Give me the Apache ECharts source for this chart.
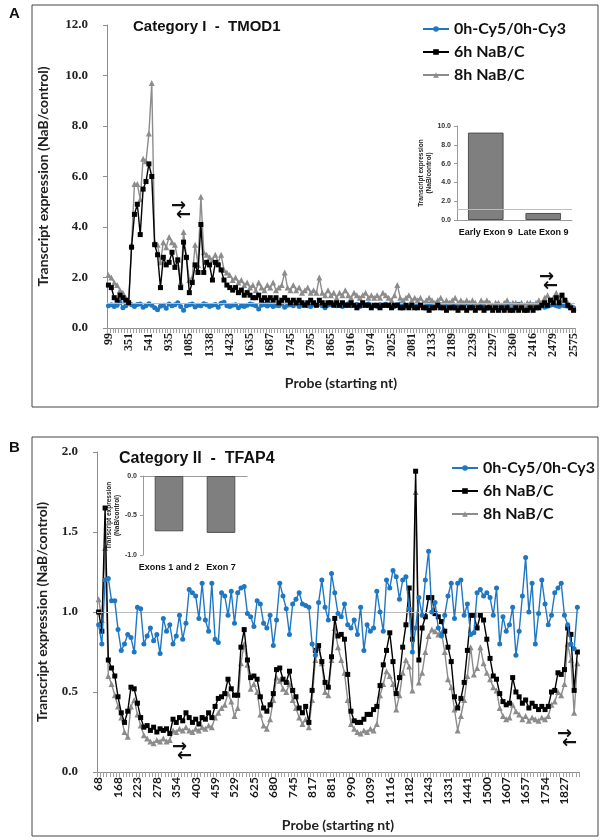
<!DOCTYPE html>
<html>
<head>
<meta charset="utf-8">
<title>TMOD1 / TFAP4 transcript expression</title>
<script src="https://cdn.jsdelivr.net/npm/echarts@6.0.0/dist/echarts.min.js"></script>
<style>
  html, body { margin: 0; padding: 0; background: #fff; }
  #chart { width: 602px; height: 840px; }
</style>
</head>
<body>
<div id="chart"></div>
<script>
// ---- panel A : TMOD1 ----
var ticksA = ['99','351','541','935','1085','1338','1423','1635','1687','1745','1795','1865',
  '1916','1974','2025','2081','2133','2189','2239','2297','2360','2416','2479','2575'];
var stepA = 7;   // probes between two labels

var blueA = [0.88,0.92,0.85,0.90,1.02,0.80,0.88,1.00,0.92,0.85,
  0.93,0.95,0.82,0.88,0.96,0.90,0.80,0.72,0.86,0.90,
  0.78,0.95,0.88,0.92,1.00,0.85,0.70,0.88,0.92,0.95,
  0.83,0.90,0.88,0.96,0.92,0.85,0.90,0.93,0.82,0.98,
  1.02,0.88,0.85,0.90,0.92,0.80,0.88,0.85,0.90,0.95,
  0.92,0.88,0.75,0.90,0.93,0.87,0.92,0.85,0.90,0.88,
  0.95,0.82,0.90,0.92,0.88,0.96,0.85,0.90,0.93,0.88,
  0.85,0.92,0.90,0.94,0.88,0.80,0.90,0.92,0.95,0.88,
  0.90,0.85,0.92,0.96,0.88,0.90,0.93,0.85,0.88,0.92,
  0.95,0.90,0.88,0.85,0.92,0.90,0.94,0.88,0.90,0.85,
  0.92,0.95,0.88,0.86,0.90,0.93,0.85,0.88,0.90,0.92,
  0.88,0.95,0.85,0.90,0.88,0.92,0.86,0.90,0.94,0.88,
  0.85,0.90,0.92,0.88,1.00,0.90,0.86,0.92,0.88,0.90,
  0.82,0.78,0.90,0.88,0.85,0.92,0.88,0.90,0.86,0.92,
  0.90,0.88,0.94,0.86,0.90,0.80,0.88,0.92,0.85,0.90,
  0.88,0.82,0.86,0.90,0.92,0.88,0.85,0.90,0.88,0.86,
  0.85,0.80];

var blackA = [1.7,1.6,1.2,1.1,1.3,1.2,1.1,1.0,
  3.2,4.5,4.9,3.7,5.5,5.8,6.5,6.0,
  3.3,2.9,1.6,2.8,2.5,2.6,3.0,2.4,2.7,1.6,3.4,2.8,1.4,1.8,2.5,2.2,4.1,2.2,2.6,2.5,
  1.9,2.6,2.5,2.3,1.9,1.7,1.6,1.5,1.6,1.4,1.5,1.3,1.4,
  1.3,1.2,1.2,1.3,1.1,1.2,1.1,1.2,1.1,1.2,1.0,1.1,
  1.2,
  1.1,1.0,1.1,1.0,1.1,1.0,0.9,1.0,1.1,1.0,0.9,
  1.1,
  1.0,0.9,1.0,1.0,0.9,1.0,0.9,1.0,0.9,0.9,1.0,0.9,0.8,0.9,1.0,0.9,0.9,0.8,0.9,0.9,0.8,0.9,0.9,
  0.9,0.8,0.9,0.9,0.8,0.8,0.9,0.8,0.9,0.8,0.8,0.9,0.8,0.8,0.7,0.8,0.8,0.9,0.8,0.8,
  0.7,0.8,0.8,0.8,0.7,0.8,0.8,0.7,0.8,0.8,0.7,0.8,0.8,0.7,0.8,
  0.8,0.7,0.8,0.7,0.8,0.7,0.8,0.7,0.7,0.8,0.7,0.8,0.7,0.7,0.8,0.7,0.8,
  0.8,0.9,1.0,0.9,1.1,1.0,1.2,1.0,1.3,1.1,0.9,0.8,0.7];

var grayA = [2.1,2.0,1.8,1.7,1.5,1.4,1.2,1.0,
  3.3,5.7,5.7,5.1,6.7,6.6,7.7,9.7,
  3.4,3.3,2.6,3.4,3.2,3.6,3.4,3.3,2.7,1.8,3.8,2.8,1.9,2.0,3.3,2.5,5.2,3.0,2.9,2.8,
  2.7,2.9,2.6,2.9,2.3,2.2,2.1,1.9,2.0,1.8,1.9,1.7,1.8,
  1.6,1.7,1.5,1.8,1.6,1.5,1.7,1.6,1.8,1.5,1.6,1.7,
  2.2,
  1.6,1.5,1.7,1.5,1.6,1.4,1.5,1.6,1.4,1.5,1.4,
  2.0,
  1.4,1.3,1.5,1.3,1.4,1.2,1.4,1.3,1.5,1.3,1.2,1.4,1.3,1.2,1.3,1.4,1.2,1.3,1.2,1.3,1.2,1.4,1.3,
  1.2,1.1,1.3,1.7,1.2,1.1,1.2,1.3,1.1,1.2,1.1,1.2,1.0,1.1,1.2,1.1,1.0,1.1,1.2,1.0,
  1.1,1.0,1.1,1.2,1.0,1.1,1.0,1.1,1.0,1.1,1.0,0.9,1.1,1.0,1.1,
  1.0,0.9,1.0,1.0,0.9,1.0,1.1,0.9,1.0,1.0,0.9,1.0,0.9,1.0,1.0,0.9,1.0,
  1.1,1.0,1.2,1.3,1.1,1.2,1.4,1.2,1.3,1.1,1.0,0.9,0.8];

var insetACats = ['Early Exon 9', 'Late Exon 9'];
var insetAVals = [9.3, 0.75];

// ---- panel B : TFAP4 ----
var ticksB = ['68','168','223','278','354','403','459','529','625','680','745','817','881',
  '990','1039','1116','1182','1243','1331','1441','1500','1607','1657','1754','1827'];
var stepB = 6;

var blueB = [0.92,0.80,1.20,1.21,1.07,1.07,0.89,0.76,0.80,0.86,
  0.84,0.75,1.03,1.02,0.80,0.85,0.90,0.82,0.86,0.74,
  0.96,0.88,0.92,0.80,0.85,0.98,0.83,0.93,1.14,1.12,
  1.10,0.96,1.18,0.95,0.88,1.18,0.83,0.81,1.12,1.10,
  0.98,1.13,0.93,1.12,1.15,1.16,0.99,0.97,0.91,1.07,
  1.05,0.93,0.90,0.98,0.79,0.95,1.18,1.10,1.02,0.86,
  1.05,1.08,1.12,1.05,1.04,1.03,0.80,0.73,1.06,1.20,
  1.03,0.95,1.24,1.12,0.99,0.97,1.05,0.92,0.90,0.95,
  0.86,1.03,0.76,0.92,0.88,0.90,1.13,1.00,0.88,1.20,
  1.15,1.26,1.22,1.08,1.20,1.22,1.02,0.75,0.90,1.09,
  0.98,1.20,1.38,1.00,1.06,0.90,0.85,0.98,1.10,1.18,
  0.96,1.18,1.20,0.98,1.05,0.86,0.87,1.12,1.14,1.10,
  1.12,1.09,0.98,1.15,0.80,0.97,0.88,0.92,1.03,0.73,
  0.88,1.10,1.34,1.00,1.18,0.80,0.99,1.20,1.05,0.92,
  0.98,1.12,1.15,1.18,0.98,0.92,0.80,0.77,1.03];

var blackB = [1.00,0.88,1.65,0.70,0.65,0.60,0.47,0.37,0.31,0.38,
  0.53,0.52,0.43,0.34,0.28,0.29,0.26,0.28,0.25,0.27,
  0.26,0.27,0.24,0.33,0.31,0.34,0.32,0.37,0.34,0.31,
  0.33,0.30,0.34,0.33,0.37,0.34,0.41,0.46,0.47,0.49,
  0.58,0.52,0.48,0.48,0.78,0.89,0.70,0.59,0.60,0.58,
  0.47,0.40,0.38,0.42,0.49,0.64,0.65,0.58,0.56,0.63,
  0.51,0.47,0.40,0.37,0.41,0.31,0.51,0.76,0.79,0.69,
  0.56,0.53,0.72,0.96,0.85,0.86,0.83,0.61,0.38,0.32,
  0.31,0.31,0.33,0.36,0.36,0.39,0.41,0.54,0.67,0.76,
  0.87,0.69,0.49,0.59,0.78,0.92,1.15,0.83,1.88,0.70,
  0.90,0.97,1.09,1.09,0.99,0.97,0.94,0.88,0.78,0.69,
  0.47,0.40,0.46,0.56,0.76,0.98,0.98,0.90,0.98,0.95,
  0.83,0.71,0.60,0.58,0.49,0.44,0.42,0.43,0.59,0.50,
  0.47,0.43,0.45,0.40,0.43,0.41,0.39,0.41,0.39,0.41,
  0.50,0.51,0.62,0.61,0.64,0.90,0.86,0.51,0.75];

var grayB = [1.08,0.95,1.40,0.60,0.55,0.48,0.41,0.34,0.25,0.22,
  0.41,0.45,0.36,0.29,0.23,0.21,0.19,0.18,0.20,0.19,
  0.21,0.19,0.20,0.26,0.25,0.27,0.26,0.28,0.26,0.25,
  0.27,0.26,0.28,0.27,0.29,0.28,0.34,0.37,0.40,0.42,
  0.49,0.44,0.35,0.40,0.68,0.80,0.67,0.52,0.55,0.50,
  0.36,0.29,0.27,0.33,0.45,0.59,0.57,0.52,0.50,0.55,
  0.45,0.40,0.34,0.30,0.33,0.28,0.45,0.70,0.78,0.68,
  0.50,0.48,0.70,0.90,0.78,0.70,0.62,0.45,0.30,0.27,
  0.25,0.24,0.26,0.25,0.27,0.26,0.30,0.48,0.55,0.63,
  0.60,0.55,0.39,0.48,0.62,0.70,0.66,0.51,1.75,0.56,
  0.62,0.75,0.85,0.89,0.88,0.86,0.87,0.75,0.58,0.53,
  0.39,0.26,0.35,0.45,0.60,0.78,0.61,0.65,0.78,0.68,
  0.62,0.58,0.53,0.51,0.40,0.35,0.33,0.34,0.42,0.38,
  0.36,0.33,0.35,0.32,0.34,0.33,0.32,0.34,0.33,0.35,
  0.42,0.44,0.50,0.48,0.55,0.80,0.70,0.37,0.68];

var insetBCats = ['Exons 1 and 2', 'Exon 7'];
var insetBVals = [-0.70, -0.72];

var names = ['0h-Cy5/0h-Cy3', '6h NaB/C', '8h NaB/C'];
var colBlue = '#1f77c4', colBlack = '#000000', colGray = '#8c8c8c';

function cats(n) {
  var c = [];
  for (var i = 0; i < n; i++) c.push(String(i));
  return c;
}

var axisFont = 'Liberation Serif';
var sansFont = 'Lato';

function mainX(grid, n, ticks, step, font, gap) {
  return {
    type: 'category', gridIndex: grid, data: cats(n), boundaryGap: true,
    axisLine: { lineStyle: { color: '#8c8c8c', width: 1 } },
    axisTick: { show: true, interval: 0, length: 5, lineStyle: { color: '#a0a0a0' } },
    axisLabel: {
      interval: step - 1, rotate: 90, margin: 5,
      fontFamily: font, fontWeight: 'bold', fontSize: 12, color: '#1a1a1a',
      formatter: function (v, idx) { return idx % step === 0 ? (ticks[idx / step] || '') : ''; }
    },
    splitLine: { show: false },
    name: 'Probe (starting nt)', nameLocation: 'middle', nameGap: gap,
    nameTextStyle: { fontFamily: sansFont, fontWeight: 'bold', fontSize: 14, color: '#222' }
  };
}

function mainY(grid, max, itv, digits, gap) {
  return {
    type: 'value', gridIndex: grid, min: 0, max: max, interval: itv,
    axisLine: { show: true, lineStyle: { color: '#8c8c8c' } },
    axisTick: { show: true, length: 4, lineStyle: { color: '#8c8c8c' } },
    splitLine: { show: false },
    axisLabel: {
      margin: 19, fontFamily: axisFont, fontWeight: 'bold', fontSize: 13, color: '#222',
      formatter: function (v) { return v.toFixed(digits); }
    },
    name: 'Transcript expression (NaB/control)', nameLocation: 'middle', nameRotate: 90, nameGap: gap,
    nameTextStyle: { fontFamily: sansFont, fontWeight: 'bold', fontSize: 14, color: '#222' }
  };
}

function lineSeries(name, data, xi, yi, color, symbol, size, z) {
  return {
    name: name, type: 'line', xAxisIndex: xi, yAxisIndex: yi, data: data,
    symbol: symbol, symbolSize: size, showSymbol: true, showAllSymbol: true, z: z,
    lineStyle: { color: color, width: 1.4 },
    itemStyle: { color: color, borderWidth: 0 },
    emphasis: { disabled: true }
  };
}

function refLine(xi, yi, y) {
  // empty series that only carries the thin grey reference line
  return {
    name: 'ref', type: 'line', xAxisIndex: xi, yAxisIndex: yi, data: [], z: 1, silent: true,
    markLine: {
      silent: true, symbol: ['none', 'none'], label: { show: false },
      lineStyle: { color: '#bdbdbd', width: 1, type: 'solid' },
      data: [{ yAxis: y }]
    }
  };
}

function insetY(grid, min, max, itv) {
  return {
    type: 'value', gridIndex: grid, min: min, max: max, interval: itv,
    axisLine: { show: true, lineStyle: { color: '#9a9a9a' } },
    axisTick: { show: true, length: 3, lineStyle: { color: '#9a9a9a' } },
    splitLine: { show: false },
    axisLabel: { fontFamily: 'Liberation Sans', fontWeight: 'bold', fontSize: 7, color: '#333', margin: 6,
      formatter: function (v) { return v.toFixed(1); } },
    name: 'Transcript expression\n(NaB/control)', nameLocation: 'middle', nameRotate: 90, nameGap: 19,
    nameTextStyle: { fontFamily: 'Liberation Sans', fontWeight: 'bold', fontSize: 6.5, color: '#222', lineHeight: 8 }
  };
}

var catLabel = { interval: 0, hideOverlap: false, fontFamily: 'Liberation Sans', fontWeight: 'bold',
  fontSize: 9, color: '#111', margin: 8 };

var chart = echarts.init(document.getElementById('chart'));

var legendText = { fontFamily: sansFont, fontWeight: 'bold', fontSize: 16, color: '#111' };

var option = {
  animation: false,
  backgroundColor: '#fff',
  grid: [
    { left: 107, top: 25, width: 468, height: 303 },
    { left: 457, top: 126, width: 115, height: 94 },
    { left: 97, top: 452, width: 482, height: 320 },
    { left: 143, top: 476, width: 104, height: 79 }
  ],
  xAxis: [
    mainX(0, blueA.length, ticksA, stepA, axisFont, 48),
    { type: 'category', gridIndex: 1, data: insetACats,
      axisLine: { lineStyle: { color: '#9a9a9a' } }, axisTick: { show: false }, axisLabel: catLabel },
    mainX(2, blueB.length, ticksB, stepB, sansFont, 46),
    { type: 'category', gridIndex: 3, data: insetBCats, position: 'bottom',
      axisLine: { show: false, onZero: false }, axisTick: { show: false }, axisLabel: catLabel },
    { type: 'category', gridIndex: 3, data: insetBCats, position: 'top',
      axisLine: { show: true, onZero: false, lineStyle: { color: '#9a9a9a' } },
      axisTick: { show: false }, axisLabel: { show: false } }
  ],
  yAxis: [
    mainY(0, 12, 2, 1, 57),
    insetY(1, 0, 10, 2),
    mainY(2, 2, 0.5, 1, 48),
    insetY(3, -1, 0, 0.5)
  ],
  legend: [
    { data: names, orient: 'vertical', left: 417, top: 16, itemWidth: 26, itemHeight: 7, itemGap: 7,
      textStyle: legendText },
    { data: names, orient: 'vertical', left: 446, top: 455, itemWidth: 26, itemHeight: 7, itemGap: 7,
      textStyle: legendText }
  ],
  series: [
    refLine(0, 0, 1.0),
    lineSeries(names[0], blueA, 0, 0, colBlue, 'circle', 5, 3),
    lineSeries(names[2], grayA, 0, 0, colGray, 'triangle', 6, 4),
    lineSeries(names[1], blackA, 0, 0, colBlack, 'rect', 5, 5),

    refLine(1, 1, 1.1),
    { name: 'insetA', type: 'bar', xAxisIndex: 1, yAxisIndex: 1, data: insetAVals, barWidth: '62%', z: 3,
      itemStyle: { color: '#7f7f7f', borderColor: '#505050', borderWidth: 1 } },

    refLine(2, 2, 1.0),
    lineSeries(names[2], grayB, 2, 2, colGray, 'triangle', 6, 3),
    lineSeries(names[1], blackB, 2, 2, colBlack, 'rect', 5, 4),
    lineSeries(names[0], blueB, 2, 2, colBlue, 'circle', 5, 5),

    { name: 'insetB', type: 'bar', xAxisIndex: 3, yAxisIndex: 3, data: insetBVals, barWidth: '55%', z: 3,
      itemStyle: { color: '#7f7f7f', borderColor: '#505050', borderWidth: 1 } }
  ],
  graphic: [
    { type: 'rect', shape: { x: 32, y: 5, width: 566, height: 402 },
      style: { fill: 'none', stroke: '#444', lineWidth: 1 }, silent: true },
    { type: 'rect', shape: { x: 32, y: 437, width: 566, height: 399 },
      style: { fill: 'none', stroke: '#444', lineWidth: 1 }, silent: true },
    { type: 'text', left: 9, top: 6, style: { text: 'A', font: 'bold 15px Liberation Sans', fill: '#111' } },
    { type: 'text', left: 9, top: 440, style: { text: 'B', font: 'bold 15px Liberation Sans', fill: '#111' } },
    { type: 'text', left: 133, top: 19, style: { text: 'Category I  -  TMOD1', font: 'bold 15px Liberation Sans', fill: '#111' } },
    { type: 'text', left: 119, top: 451, style: { text: 'Category II  -  TFAP4', font: 'bold 16px Liberation Sans', fill: '#111' } },
    // primer arrows
    { type: 'text', left: 171, top: 197, style: { text: '\u2192', font: 'bold 18px DejaVu Sans', fill: '#111' } },
    { type: 'text', left: 176, top: 206, style: { text: '\u2190', font: 'bold 18px DejaVu Sans', fill: '#111' } },
    { type: 'text', left: 539, top: 268, style: { text: '\u2192', font: 'bold 18px DejaVu Sans', fill: '#111' } },
    { type: 'text', left: 543, top: 277, style: { text: '\u2190', font: 'bold 18px DejaVu Sans', fill: '#111' } },
    { type: 'text', left: 172, top: 738, style: { text: '\u2192', font: 'bold 18px DejaVu Sans', fill: '#111' } },
    { type: 'text', left: 177, top: 747, style: { text: '\u2190', font: 'bold 18px DejaVu Sans', fill: '#111' } },
    { type: 'text', left: 557, top: 725, style: { text: '\u2192', font: 'bold 18px DejaVu Sans', fill: '#111' } },
    { type: 'text', left: 562, top: 734, style: { text: '\u2190', font: 'bold 18px DejaVu Sans', fill: '#111' } }
  ]
};

chart.setOption(option);
</script>
</body>
</html>
